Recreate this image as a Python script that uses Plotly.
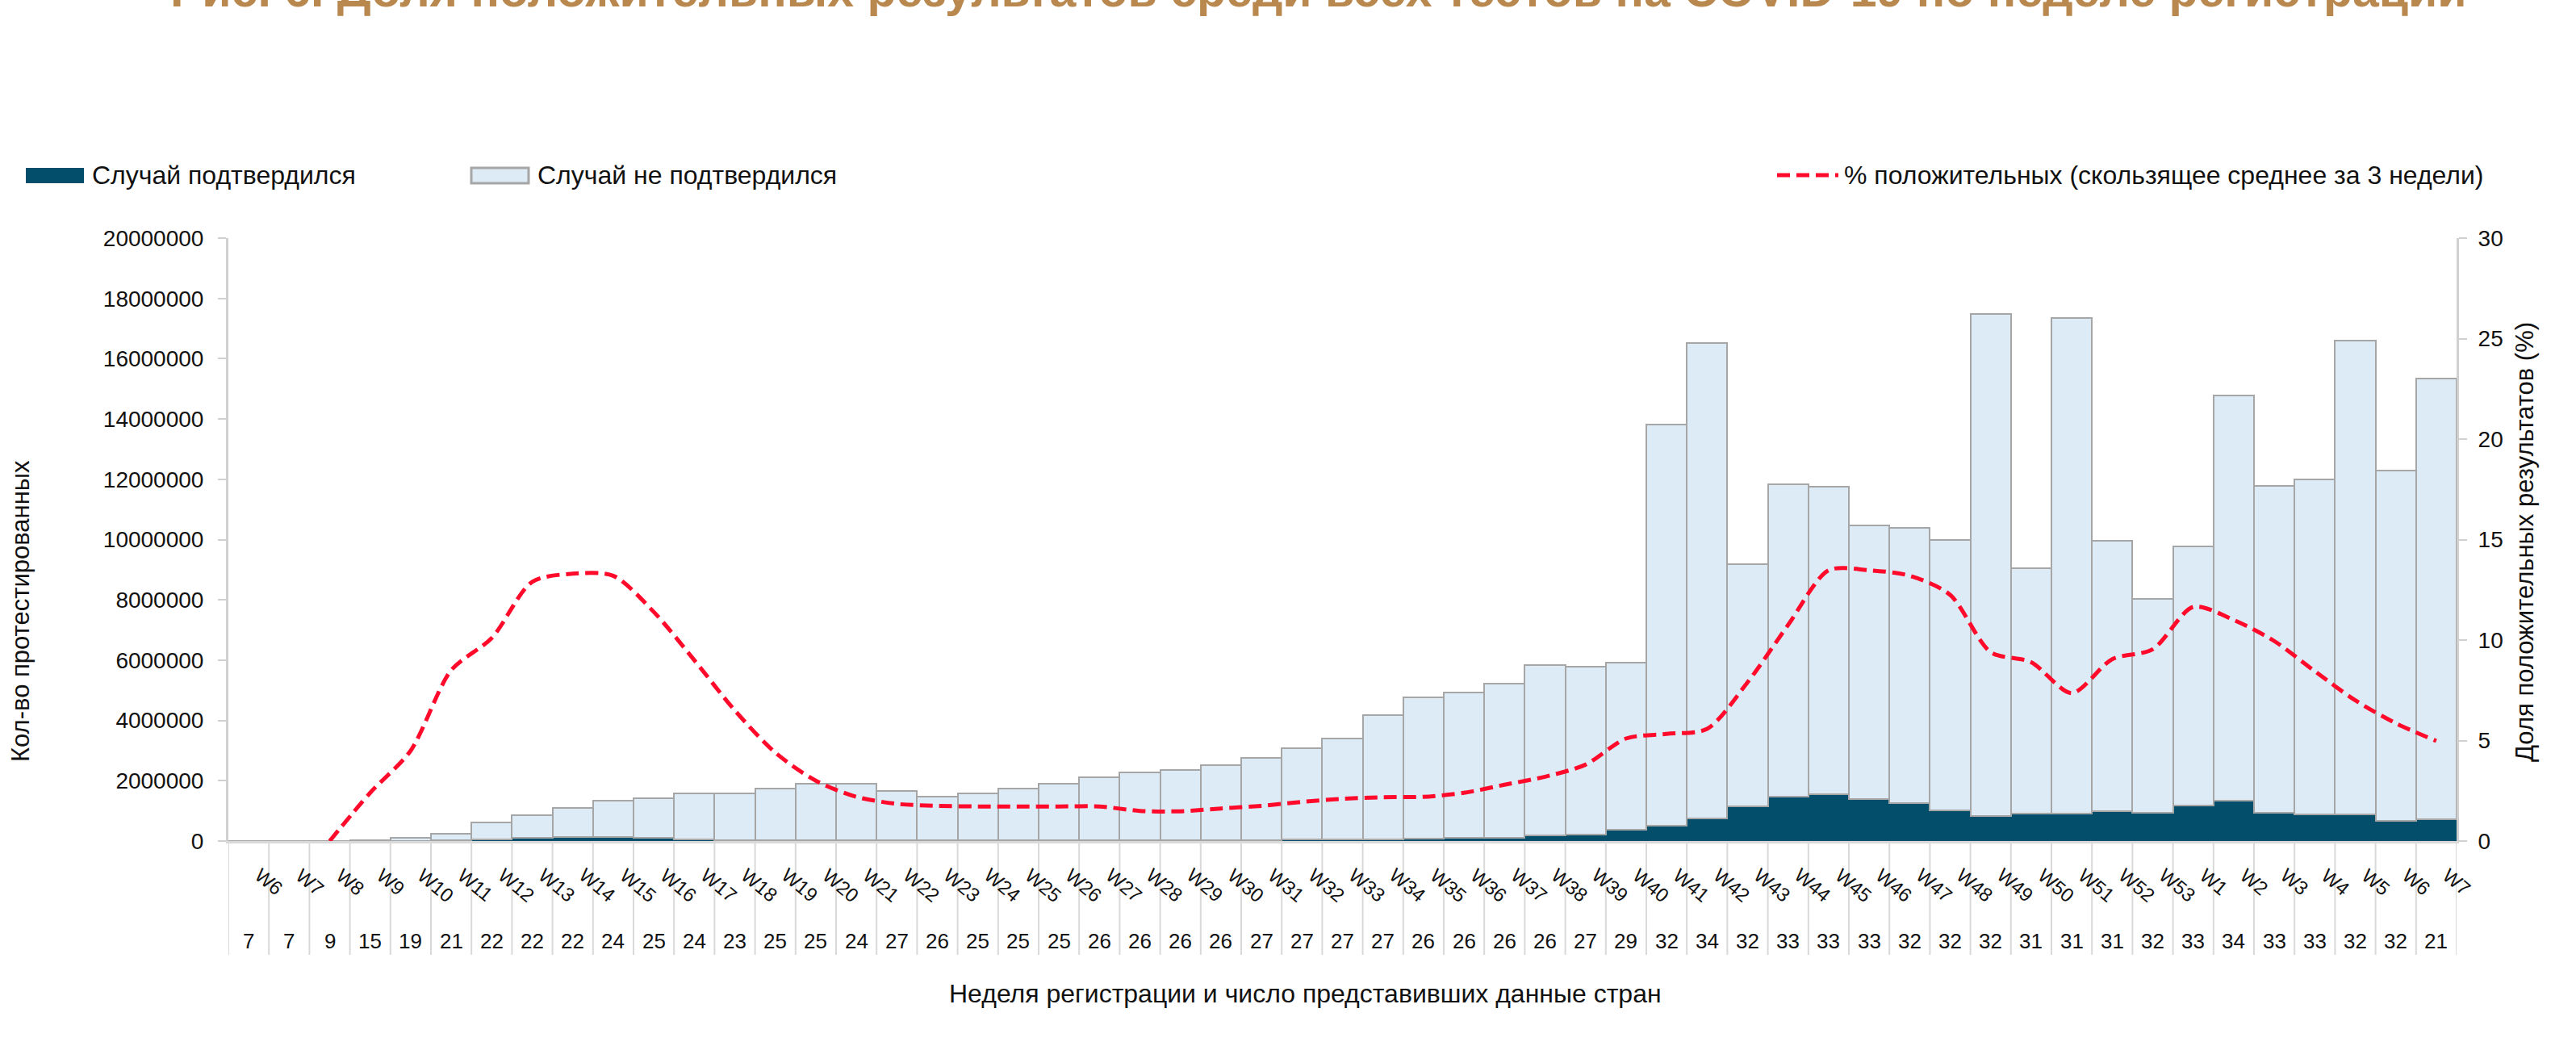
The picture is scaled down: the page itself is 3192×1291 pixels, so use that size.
import plotly.graph_objects as go

# ---------------- data ----------------
weeks = ["W6", "W7", "W8", "W9", "W10", "W11", "W12", "W13", "W14", "W15", "W16",
         "W17", "W18", "W19", "W20", "W21", "W22", "W23", "W24", "W25", "W26", "W27",
         "W28", "W29", "W30", "W31", "W32", "W33", "W34", "W35", "W36", "W37", "W38",
         "W39", "W40", "W41", "W42", "W43", "W44", "W45", "W46", "W47", "W48", "W49",
         "W50", "W51", "W52", "W53", "W1", "W2", "W3", "W4", "W5", "W6", "W7"]

countries = [7, 7, 9, 15, 19, 21, 22, 22, 22, 24, 25, 24, 23, 25, 25, 24, 27, 26, 25, 25,
             25, 26, 26, 26, 26, 27, 27, 27, 27, 26, 26, 26, 26, 27, 29, 32, 34, 32, 33, 33,
             33, 32, 32, 32, 31, 31, 31, 32, 33, 34, 33, 33, 32, 32, 21]

confirmed = [0, 0, 0, 1000, 4000, 20000, 50000, 100000, 130000, 140000, 120000, 50000,
             40000, 30000, 30000, 30000, 30000, 25000, 25000, 30000, 30000, 35000, 35000,
             35000, 40000, 40000, 45000, 50000, 50000, 90000, 100000, 100000, 190000,
             210000, 380000, 520000, 740000, 1160000, 1460000, 1540000, 1380000, 1250000,
             1010000, 830000, 920000, 920000, 1000000, 940000, 1180000, 1340000, 940000,
             880000, 880000, 660000, 720000]

not_confirmed = [2000, 3000, 10000, 29000, 96000, 230000, 570000, 750000, 960000, 1190000,
                 1300000, 1520000, 1530000, 1700000, 1870000, 1870000, 1630000, 1455000,
                 1545000, 1710000, 1870000, 2075000, 2235000, 2315000, 2470000, 2710000,
                 3025000, 3350000, 4140000, 4670000, 4820000, 5130000, 5660000, 5560000,
                 5550000, 13300000, 15790000, 8030000, 10380000, 10220000, 9090000, 9140000,
                 8990000, 16660000, 8130000, 16420000, 8950000, 7100000, 8580000, 13450000,
                 10840000, 11120000, 15720000, 11640000, 14610000]

pct_positive_ma3 = [None, None, 0.0, 2.4, 4.5, 8.5, 10.1, 12.9, 13.3, 13.2, 11.4, 9.0, 6.5,
                    4.4, 3.0, 2.2, 1.85, 1.75, 1.72, 1.72, 1.72, 1.72, 1.5, 1.48, 1.62, 1.75,
                    1.95, 2.1, 2.18, 2.2, 2.4, 2.8, 3.2, 3.8, 5.1, 5.33, 5.58, 7.9, 10.75,
                    13.47, 13.47, 13.2, 12.25, 9.4, 8.9, 7.36, 9.05, 9.54, 11.65, 11.0, 9.95,
                    8.45, 7.0, 5.86, 4.98]

left_ticks = [0, 2000000, 4000000, 6000000, 8000000, 10000000, 12000000, 14000000,
              16000000, 18000000, 20000000]
right_ticks = [0, 5, 10, 15, 20, 25, 30]

title_text = "Рис. 6. Доля положительных результатов среди всех тестов на COVID-19 по неделе регистрации"
name_conf = "Случай подтвердился"
name_notconf = "Случай не подтвердился"
name_line = "% положительных (скользящее среднее за 3 недели)"
y_title = "Кол-во протестированных"
y2_title = "Доля положительных результатов (%)"
x_title = "Неделя регистрации и число представивших данные стран"

# ---------------- layout helpers ----------------
W, H = 3192, 1291
PL, PR, PT, PB = 283, 3044, 295, 1042
FONT = "Liberation Sans, Arial, sans-serif"
TXT = "#111111"


def px(x):
    return (x - PL) / (PR - PL)


def py(y):
    return (PB - y) / (PB - PT)


idx = list(range(len(weeks)))

fig = go.Figure()
fig.add_bar(x=idx, y=confirmed, name=name_conf,
            marker=dict(color="#024E6B", line=dict(width=0)), showlegend=False)
fig.add_bar(x=idx, y=not_confirmed, name=name_notconf,
            marker=dict(color="#DDEBF7", line=dict(color="#A6A6A6", width=2.5)),
            showlegend=False)
fig.add_scatter(x=idx, y=pct_positive_ma3, yaxis="y2", name=name_line, mode="lines",
                line=dict(color="#FF0A2A", width=5, dash="16px,8px", shape="spline",
                          smoothing=0.8),
                connectgaps=False, showlegend=False)

annotations = []
shapes = []

# category labels (rotated week) and country counts
for i, (w, c) in enumerate(zip(weeks, countries)):
    annotations.append(dict(x=i, xref="x", y=py(1068), yref="paper", text=w,
                            showarrow=False, xanchor="left", yanchor="top", textangle=40,
                            font=dict(family=FONT, size=24, color=TXT)))
    annotations.append(dict(x=i, xref="x", y=py(1166), yref="paper", text=str(c),
                            showarrow=False, xanchor="center", yanchor="middle",
                            font=dict(family=FONT, size=26, color=TXT)))

# separators between categories
for i in range(len(weeks) + 1):
    shapes.append(dict(type="line", xref="x", yref="paper", x0=i - 0.5, x1=i - 0.5,
                       y0=py(1043), y1=py(1183), line=dict(color="#D9D9D9", width=2)))

# legend (manual)
shapes.append(dict(type="rect", xref="paper", yref="paper", x0=px(32), x1=px(104),
                   y0=py(227), y1=py(208), fillcolor="#024E6B", line=dict(width=0)))
shapes.append(dict(type="rect", xref="paper", yref="paper", x0=px(584), x1=px(655),
                   y0=py(227), y1=py(208), fillcolor="#DDEBF7",
                   line=dict(color="#A6A6A6", width=3)))
shapes.append(dict(type="line", xref="paper", yref="paper", x0=px(2202), x1=px(2278),
                   y0=py(217), y1=py(217),
                   line=dict(color="#FF0A2A", width=5, dash="16px,8px")))
for xx, t in [(112, name_conf), (664, name_notconf), (2283, name_line)]:
    annotations.append(dict(x=px(xx), y=py(217), xref="paper", yref="paper", text=t,
                            showarrow=False, xanchor="left", yanchor="middle",
                            font=dict(family=FONT, size=32, color=TXT)))

# axis titles
annotations.append(dict(x=px(25), y=py(757), xref="paper", yref="paper", text=y_title,
                        showarrow=False, textangle=-90, xanchor="center", yanchor="middle",
                        font=dict(family=FONT, size=31, color=TXT)))
annotations.append(dict(x=px(3128), y=py(672), xref="paper", yref="paper", text=y2_title,
                        showarrow=False, textangle=-90, xanchor="center", yanchor="middle",
                        font=dict(family=FONT, size=31, color=TXT)))
annotations.append(dict(x=px(1617), y=py(1231), xref="paper", yref="paper", text=x_title,
                        showarrow=False, xanchor="center", yanchor="middle",
                        font=dict(family=FONT, size=32, color=TXT)))

# title (cut at the top of the page, like the reference)
annotations.append(dict(x=px(1634), y=py(-12), xref="paper", yref="paper",
                        text="<b>" + title_text + "</b>", showarrow=False,
                        xanchor="center", yanchor="middle",
                        font=dict(family=FONT, size=59, color="#B8884F")))

axis_common = dict(showgrid=False, zeroline=False, ticks="outside", ticklen=10,
                   tickwidth=2, tickcolor="#D0D0D0", showline=True, linecolor="#D0D0D0",
                   linewidth=3, tickfont=dict(family=FONT, size=28, color=TXT))

fig.update_layout(
    width=W, height=H,
    margin=dict(l=PL, r=W - PR, t=PT, b=H - PB, pad=0),
    paper_bgcolor="white", plot_bgcolor="white",
    barmode="stack", bargap=0,
    xaxis=dict(range=[-0.5, len(weeks) - 0.5], showticklabels=False, ticks="",
               showgrid=False, zeroline=False, showline=True, linecolor="#D9D9D9",
               linewidth=3, fixedrange=True),
    yaxis=dict(range=[0, 20000000], tickvals=left_ticks, tickformat="d",
               ticklabelstandoff=12, **axis_common),
    yaxis2=dict(range=[0, 30], tickvals=right_ticks, overlaying="y", side="right",
                ticklabelstandoff=8, **axis_common),
    annotations=annotations,
    shapes=shapes,
    showlegend=False,
)

fig.write_html("out.html",
               config={"displayModeBar": False},
               post_script="document.body.style.margin='0';"
                           "document.body.style.overflow='hidden';")
